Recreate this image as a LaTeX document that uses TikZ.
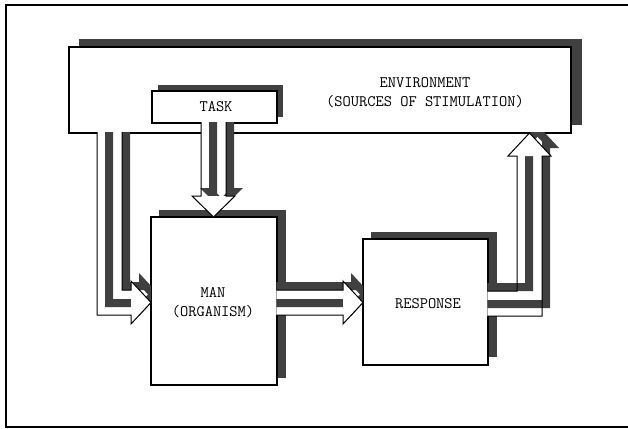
\documentclass[tikz,border=0pt]{standalone}
\newcommand\blockarr[4]{%
 \begin{scope}
  \clip #1;
  \fill[white] #2 -- cycle;
  \begin{scope}\clip #3 -- cycle; \draw[stripe] #3 -- cycle;\end{scope}
  \fill[white] #4 -- cycle;
  \draw[outl] #2 -- cycle;
 \end{scope}}
\begin{document}
\begin{tikzpicture}[x=1pt,y=-1pt,
  shadebar/.style={fill=black!75},
  face/.style={draw=black,line width=1.1pt,fill=white,inner sep=0pt},
  lbl/.style={font=\ttfamily\fontsize{16}{19}\selectfont, align=center, inner sep=0pt},
  stripe/.style={draw=black!75,line width=16pt},
  outl/.style={draw=black,line width=1pt,line join=miter}]
\useasboundingbox (0,0) rectangle (628,428);
\draw[line width=1.8pt] (628,5) -- (6,5) -- (6,427) -- (628,427);

% environment
\fill[shadebar] (79,39) rectangle (582,125);
\node[face, minimum width=502pt, minimum height=86pt] (env) at (320,90) {};
% task
\fill[shadebar] (158,85) rectangle (283,117);
\node[face, minimum width=125pt, minimum height=32pt] (task) at (214.5,107) {};
% man
\fill[shadebar] (159,210) rectangle (286,378);
\node[face, minimum width=126pt, minimum height=168pt] (man) at (214,301) {};
% response
\fill[shadebar] (371,232) rectangle (497,357);
\node[face, minimum width=125pt, minimum height=126pt] (resp) at (425.5,302) {};

% arrow environment -> man
\blockarr{(0,132.3) rectangle (151,428)}
 {(97,120)--(97,315)--(131,315)--(131,324)--(151,302.5)--(131,281)--(131,290)--(122,290)--(122,120)}
 {(105,112)--(105,307)--(139,307)--(139,316)--(159,294.5)--(139,273)--(139,282)--(130,282)--(130,112)}
 {(131,324)--(151,302.5)--(131,281)}
% arrow task -> man
\blockarr{(0,122.3) rectangle (628,217.3)}
 {(201,110)--(201,196)--(192,196)--(213.5,217)--(235,196)--(226,196)--(226,110)}
 {(209,102)--(209,188)--(200,188)--(221.5,209)--(243,188)--(234,188)--(234,102)}
 {(192,196)--(213.5,217)--(235,196)}
% arrow man -> response
\blockarr{(276.3,0) rectangle (363,428)}
 {(262,290)--(343,290)--(343,281)--(363,302.5)--(343,324)--(343,315)--(262,315)}
 {(262,282)--(351,282)--(351,273)--(371,294.5)--(351,316)--(351,307)--(262,307)}
 {(343,281)--(363,302.5)--(343,324)}
% arrow response -> environment
\blockarr{(487.3,132.7) rectangle (628,428)}
 {(470,291)--(517,291)--(517,156)--(508,156)--(529.5,133)--(551,156)--(542,156)--(542,316)--(470,316)}
 {(470,283)--(525,283)--(525,148)--(516,148)--(537.5,125)--(559,148)--(550,148)--(550,308)--(470,308)}
 {(508,156)--(529.5,133)--(551,156)}

% labels
\node[lbl] (envt) at (425,92.5) {ENVIRONMENT\\(SOURCES OF STIMULATION)};
\node[lbl] (taskt) at (216,107) {TASK};
\node[lbl] (mant) at (213,303) {MAN\\(ORGANISM)};
\node[lbl] (respt) at (428,304) {RESPONSE};
\end{tikzpicture}
\end{document}
